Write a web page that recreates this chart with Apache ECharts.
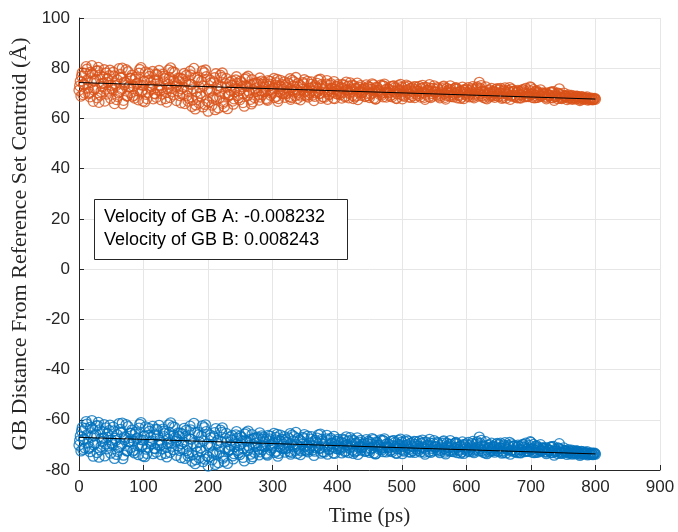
<!DOCTYPE html>
<html>
<head>
<meta charset="utf-8">
<script src="https://cdn.jsdelivr.net/npm/echarts@6/dist/echarts.min.js"></script>
<style>
  html, body { margin: 0; padding: 0; background: #fff; }
  #chart { width: 678px; height: 532px; }
</style>
</head>
<body>
<div id="chart"></div>
<script>
// Frames are written every 1 ps. Each boundary is stored as four phase arrays:
// phase p holds the frames at t = 4i + p (ps).
const FRAME_STRIDE = 4;

// ---- GB A distance from the reference-set centroid (Å) ----
const gbA0 = [
  71.2, 76.8, 73.5, 79.6, 70.4, 81.0, 74.9, 68.2, 77.3, 72.6,
  66.9, 75.8, 79.2, 71.4, 73.9, 68.7, 77.5, 65.8, 74.2, 78.6,
  70.3, 72.9, 76.4, 67.4, 80.2, 73.1, 69.6, 77.9, 71.8, 75.3,
  68.4, 79.1, 72.3, 74.6, 66.5, 76.2, 70.8, 78.3, 73.4, 69.1,
  75.7, 65.9, 71.2, 78.8, 67.3, 63.8, 76.4, 70.1, 64.6, 79.3,
  62.9, 74.1, 68.5, 77.8, 64.2, 72.6, 66.7, 75.9, 69.3, 73.2,
  67.8, 76.6, 71.1, 74.3, 64.9, 72.8, 70.2, 75.4, 68.3, 73.7,
  76.1, 69.4, 72.5, 67.2, 74.8, 70.9, 73.3, 66.8, 75.2, 71.6,
  69.8, 74.1, 67.6, 72.9, 76.3, 70.4, 68.9, 73.8, 71.2, 69.5,
  74.6, 67.1, 72.3, 70.0, 73.5, 68.4, 75.1, 69.7, 71.9, 67.9,
  72.8, 70.3, 73.6, 68.6, 71.4, 74.2, 69.2, 71.8, 67.5, 73.1,
  70.6, 68.9, 72.7, 69.8, 73.4, 67.8, 71.2, 70.1, 72.9, 68.5,
  71.6, 69.4, 73.0, 67.9, 70.8, 72.4, 68.8, 71.3, 69.6, 72.2,
  68.3, 71.0, 69.9, 73.2, 67.6, 70.7, 72.0, 68.9, 70.4, 71.8,
  69.1, 72.6, 67.7, 70.2, 71.5, 68.6, 72.3, 69.5, 70.9, 67.9,
  71.7, 69.3, 70.6, 68.2, 72.1, 74.4, 69.0, 70.8, 67.8, 71.4,
  69.6, 68.4, 71.9, 70.1, 68.9, 72.2, 69.4, 67.6, 70.7, 69.2,
  71.2, 68.1, 70.3, 72.0, 68.7, 72.3, 71.5, 68.3, 70.0, 69.1,
  69.9, 67.8, 69.0, 70.6, 67.2, 68.7, 71.8, 67.9, 68.8, 67.5,
  68.9, 67.6, 68.2, 68.8, 67.1, 67.9, 68.3, 67.3, 67.7, 67.4,
  67.6
];
const gbA1 = [
  73.0, 78.2, 70.1, 75.4, 68.6, 77.7, 72.0, 79.0, 69.3, 76.5,
  71.7, 74.3, 68.0, 78.4, 73.0, 70.2, 76.3, 67.2, 79.4, 72.5,
  75.9, 69.2, 73.7, 78.0, 70.5, 74.8, 67.9, 76.7, 72.8, 70.0,
  77.4, 73.1, 69.7, 75.8, 71.9, 68.3, 78.6, 74.1, 70.9, 76.0,
  69.5, 74.7, 66.9, 77.3, 71.8, 65.4, 75.3, 68.8, 72.9, 76.6,
  66.4, 71.3, 74.6, 67.6, 70.7, 76.3, 64.7, 72.5, 69.5, 75.0,
  70.6, 74.0, 67.4, 72.8, 75.6, 69.0, 73.5, 66.6, 71.9, 74.4,
  68.5, 73.6, 70.8, 75.1, 69.2, 72.0, 74.3, 67.9, 72.7, 70.0,
  73.4, 70.9, 68.3, 74.6, 71.5, 69.6, 72.6, 75.4, 68.9, 72.1,
  71.0, 68.8, 74.0, 69.9, 72.8, 70.6, 67.6, 73.3, 70.4, 71.7,
  73.5, 69.5, 71.9, 68.9, 72.9, 70.7, 67.9, 72.1, 70.3, 69.2,
  71.3, 73.4, 69.0, 71.6, 68.1, 72.5, 70.5, 69.3, 73.7, 70.6,
  70.2, 68.6, 72.2, 69.8, 71.4, 67.8, 72.6, 70.1, 71.9, 69.0,
  71.5, 70.8, 68.5, 72.3, 69.6, 71.2, 68.3, 72.0, 70.6, 68.8,
  70.4, 72.9, 69.2, 71.4, 68.7, 70.0, 71.7, 69.1, 68.5, 71.3,
  70.1, 68.6, 71.8, 69.3, 72.6, 69.8, 70.9, 68.1, 71.1, 70.3,
  68.9, 70.6, 69.7, 72.0, 68.3, 70.2, 71.2, 69.0, 70.8, 68.5,
  70.7, 69.3, 71.4, 68.7, 70.1, 69.6, 68.2, 71.0, 69.5, 68.9,
  69.8, 68.4, 69.1, 70.3, 68.7, 67.9, 69.6, 68.5, 69.0, 68.2,
  68.6, 67.9, 68.8, 68.2, 67.6, 68.5, 67.8, 68.1, 67.5, 67.9
];
const gbA2 = [
  74.8, 69.5, 77.9, 72.1, 78.4, 66.8, 75.6, 80.3, 70.7, 74.0,
  78.1, 70.9, 73.2, 76.9, 67.5, 79.8, 71.6, 74.5, 68.9, 72.8,
  77.2, 68.1, 74.0, 79.5, 71.3, 66.6, 75.1, 72.4, 78.7, 69.8,
  74.9, 71.1, 77.6, 67.9, 73.6, 80.1, 69.4, 72.7, 76.1, 66.2,
  72.4, 77.1, 68.0, 73.5, 79.9, 70.6, 66.1, 74.8, 78.2, 67.0,
  70.8, 65.3, 76.2, 71.9, 68.4, 78.1, 70.0, 63.9, 74.4, 66.9,
  72.2, 69.1, 74.9, 66.3, 73.1, 76.8, 67.6, 71.4, 74.1, 69.6,
  71.0, 74.4, 68.0, 72.9, 70.1, 75.9, 68.8, 73.0, 69.9, 74.6,
  72.3, 68.7, 75.2, 70.5, 67.9, 73.2, 71.6, 69.2, 74.8, 70.3,
  69.3, 73.1, 70.8, 75.6, 68.6, 72.2, 70.9, 73.9, 68.1, 72.6,
  69.7, 72.3, 70.4, 74.5, 68.2, 71.7, 73.0, 69.0, 72.4, 70.2,
  72.1, 70.0, 68.3, 73.8, 70.9, 72.2, 69.5, 73.1, 70.3, 71.8,
  68.9, 72.9, 70.6, 71.5, 73.6, 69.2, 71.0, 72.8, 68.4, 70.5,
  72.6, 69.1, 71.9, 70.2, 72.4, 68.6, 70.9, 73.0, 69.3, 70.0,
  71.1, 69.8, 72.0, 68.9, 70.5, 71.8, 68.2, 70.7, 72.5, 69.6,
  68.8, 71.2, 72.7, 69.9, 70.3, 71.9, 68.4, 72.6, 70.0, 68.9,
  70.8, 71.6, 68.7, 69.9, 71.3, 68.1, 70.6, 71.7, 68.6, 70.4,
  69.4, 70.9, 68.6, 69.8, 71.1, 68.4, 69.2, 70.5, 68.8, 70.2,
  68.5, 69.7, 70.4, 68.2, 69.5, 70.1, 68.0, 69.2, 68.6, 69.4,
  68.1, 68.9, 67.7, 68.4, 68.7, 67.6, 68.0, 67.5, 68.1, 67.7
];
const gbA3 = [
  68.9, 73.7, 80.6, 69.8, 74.4, 71.3, 78.9, 66.4, 73.9, 79.4,
  69.7, 77.0, 72.1, 65.9, 75.4, 70.6, 80.0, 73.4, 69.0, 76.0,
  68.8, 75.6, 71.0, 73.4, 66.9, 78.5, 70.4, 74.3, 67.8, 77.6,
  71.4, 67.4, 76.8, 70.3, 79.3, 72.0, 75.2, 67.1, 74.6, 71.8,
  77.9, 69.0, 73.8, 64.8, 76.1, 68.5, 72.3, 78.9, 65.6, 71.6,
  75.3, 68.0, 63.5, 73.1, 77.2, 66.0, 73.9, 68.7, 71.1, 65.7,
  75.3, 68.2, 71.7, 69.8, 76.2, 70.9, 65.8, 73.9, 70.7, 67.3,
  74.9, 70.7, 67.6, 73.7, 71.5, 68.3, 75.5, 70.6, 73.5, 68.4,
  70.1, 75.8, 71.3, 69.1, 73.9, 67.4, 74.3, 70.7, 68.5, 73.6,
  72.5, 70.2, 75.3, 68.0, 71.4, 73.7, 69.4, 72.0, 74.7, 69.8,
  70.9, 68.1, 73.2, 71.3, 70.0, 73.3, 68.6, 74.1, 70.8, 71.6,
  68.7, 71.9, 72.4, 70.2, 67.7, 71.1, 73.3, 68.6, 71.5, 70.4,
  72.7, 70.9, 68.1, 73.1, 69.5, 70.6, 73.3, 68.5, 70.9, 72.7,
  69.6, 72.8, 70.5, 68.4, 71.3, 73.5, 69.9, 70.6, 72.3, 68.2,
  71.9, 68.4, 70.7, 73.0, 69.4, 72.1, 70.3, 68.0, 71.4, 70.5,
  72.3, 70.0, 68.7, 71.5, 68.9, 73.1, 70.4, 69.3, 68.5, 72.0,
  70.2, 69.1, 71.4, 68.0, 70.9, 69.7, 72.3, 69.3, 71.0, 68.2,
  68.3, 71.5, 70.1, 69.0, 72.6, 69.8, 70.7, 68.4, 71.4, 69.6,
  70.2, 69.3, 68.3, 70.7, 68.9, 69.9, 68.4, 70.1, 69.0, 68.0,
  69.2, 68.3, 68.9, 67.7, 68.5, 68.0, 68.6, 67.8, 67.6, 68.0
];

// ---- GB B distance from the reference-set centroid (Å) ----
const gbB0 = [
  -70.1, -64.5, -67.8, -61.7, -70.9, -60.3, -66.4, -73.1, -64.0, -68.7,
  -74.4, -65.5, -62.1, -69.9, -67.4, -72.6, -63.8, -75.5, -67.1, -62.7,
  -71.0, -68.4, -64.9, -73.9, -61.1, -68.2, -71.7, -63.4, -69.5, -66.0,
  -72.9, -62.2, -69.0, -66.7, -74.8, -65.1, -70.5, -63.0, -67.9, -72.2,
  -65.6, -75.4, -70.1, -62.5, -74.0, -77.5, -64.9, -71.2, -76.7, -62.0,
  -78.4, -67.2, -72.8, -63.5, -77.1, -68.7, -74.6, -65.4, -72.0, -68.1,
  -73.5, -64.7, -70.2, -67.0, -76.4, -68.5, -71.1, -65.9, -73.0, -67.6,
  -65.2, -71.9, -68.8, -74.1, -66.5, -70.4, -68.0, -74.5, -66.1, -69.7,
  -71.5, -67.2, -73.7, -68.4, -65.0, -70.9, -72.4, -67.5, -70.1, -71.8,
  -66.7, -74.2, -69.0, -71.3, -67.8, -72.9, -66.2, -71.6, -69.4, -73.4,
  -68.5, -71.0, -67.7, -72.7, -69.9, -67.1, -72.1, -69.5, -73.8, -68.2,
  -70.7, -72.4, -68.6, -71.5, -67.9, -73.5, -70.1, -71.2, -68.4, -72.8,
  -69.7, -71.9, -68.3, -73.4, -70.5, -68.9, -72.5, -70.0, -71.7, -69.1,
  -73.0, -70.3, -71.4, -68.1, -73.7, -70.6, -69.3, -72.4, -70.9, -69.5,
  -72.2, -68.7, -73.6, -71.1, -69.8, -72.7, -69.0, -71.8, -70.4, -73.4,
  -69.6, -72.0, -70.7, -73.1, -69.2, -66.9, -72.3, -70.5, -73.5, -69.9,
  -71.7, -72.9, -69.4, -71.2, -72.4, -69.1, -71.9, -73.7, -70.6, -72.1,
  -70.1, -73.2, -71.0, -69.3, -72.6, -69.0, -69.8, -73.0, -71.3, -72.2,
  -71.4, -73.5, -72.3, -70.7, -74.1, -72.6, -69.5, -73.4, -72.5, -73.8,
  -72.4, -73.7, -73.1, -72.5, -74.2, -73.4, -73.0, -74.0, -73.6, -73.9,
  -73.7
];
const gbB1 = [
  -68.3, -63.1, -71.2, -65.9, -72.7, -63.6, -69.3, -62.3, -72.0, -64.8,
  -69.6, -67.0, -73.3, -62.9, -68.3, -71.1, -65.0, -74.1, -61.9, -68.8,
  -65.4, -72.1, -67.6, -63.3, -70.8, -66.5, -73.4, -64.6, -68.5, -71.3,
  -63.9, -68.2, -71.6, -65.5, -69.4, -73.0, -62.7, -67.2, -70.4, -65.3,
  -71.8, -66.6, -74.4, -64.0, -69.5, -75.9, -66.0, -72.5, -68.4, -64.7,
  -74.9, -70.0, -66.7, -73.7, -70.6, -65.0, -76.6, -68.8, -71.8, -66.3,
  -70.7, -67.3, -73.9, -68.5, -65.7, -72.3, -67.8, -74.7, -69.4, -66.9,
  -72.8, -67.7, -70.5, -66.2, -72.1, -69.3, -67.0, -73.4, -68.6, -71.3,
  -67.9, -70.4, -73.0, -66.7, -69.8, -71.7, -68.7, -65.9, -72.4, -69.2,
  -70.3, -72.5, -67.3, -71.4, -68.5, -70.7, -73.7, -68.0, -70.9, -69.6,
  -67.8, -71.8, -69.4, -72.4, -68.4, -70.6, -73.4, -69.2, -71.0, -72.1,
  -70.0, -67.9, -72.3, -69.7, -73.2, -68.8, -70.8, -72.0, -67.6, -70.7,
  -71.1, -72.7, -69.1, -71.5, -69.9, -73.5, -68.7, -71.2, -69.4, -72.3,
  -69.8, -70.5, -72.8, -69.0, -71.7, -70.1, -73.0, -69.3, -70.7, -72.5,
  -70.9, -68.4, -72.1, -69.9, -72.6, -71.3, -69.6, -72.2, -72.8, -70.0,
  -71.2, -72.7, -69.5, -72.0, -68.7, -71.5, -70.4, -73.2, -70.2, -71.0,
  -72.4, -70.7, -71.6, -69.3, -73.0, -71.1, -70.1, -72.3, -70.5, -72.8,
  -70.6, -72.0, -69.9, -72.6, -71.2, -71.7, -73.1, -70.3, -71.8, -72.4,
  -71.5, -72.9, -72.2, -71.0, -72.6, -73.4, -71.7, -72.8, -72.3, -73.1,
  -72.7, -73.4, -72.5, -73.1, -73.7, -72.8, -73.5, -73.2, -73.8, -73.4
];
const gbB2 = [
  -66.5, -71.8, -63.4, -69.2, -62.9, -74.5, -65.7, -61.0, -70.6, -67.3,
  -63.2, -70.4, -68.1, -64.4, -73.8, -61.5, -69.7, -66.8, -72.4, -68.5,
  -64.1, -73.2, -67.3, -61.8, -70.0, -74.7, -66.2, -68.9, -62.6, -71.5,
  -66.4, -70.2, -63.7, -73.4, -67.7, -61.2, -71.9, -68.6, -65.2, -75.1,
  -68.9, -64.2, -73.3, -67.8, -61.4, -70.7, -75.2, -66.5, -63.1, -74.3,
  -70.5, -76.0, -65.1, -69.4, -72.9, -63.2, -71.3, -77.4, -66.9, -74.4,
  -69.1, -72.2, -66.4, -75.0, -68.2, -64.5, -73.7, -69.9, -67.2, -71.7,
  -70.3, -66.9, -73.3, -68.4, -71.2, -65.4, -72.5, -68.3, -71.4, -66.7,
  -69.0, -72.6, -66.1, -70.8, -73.4, -68.1, -69.7, -72.1, -66.5, -71.0,
  -72.0, -68.2, -70.5, -65.7, -72.7, -69.1, -70.4, -67.4, -73.2, -68.7,
  -71.6, -69.0, -70.9, -66.8, -73.1, -69.6, -68.3, -72.3, -68.9, -71.1,
  -69.2, -71.3, -73.0, -67.5, -70.4, -69.1, -71.8, -68.2, -71.0, -69.5,
  -72.4, -68.4, -70.7, -69.8, -67.7, -72.1, -70.3, -68.5, -72.9, -70.8,
  -68.7, -72.2, -69.4, -71.1, -68.9, -72.7, -70.4, -68.3, -72.0, -71.3,
  -70.2, -71.5, -69.3, -72.4, -70.8, -69.5, -73.1, -70.6, -68.8, -71.7,
  -72.5, -70.1, -68.6, -71.4, -71.0, -69.4, -72.9, -68.7, -71.3, -72.4,
  -70.5, -69.7, -72.6, -71.4, -70.0, -73.2, -70.7, -69.6, -72.7, -70.9,
  -71.9, -70.4, -72.7, -71.5, -70.2, -72.9, -72.1, -70.8, -72.5, -71.1,
  -72.8, -71.6, -70.9, -73.1, -71.8, -71.2, -73.3, -72.1, -72.7, -71.9,
  -73.2, -72.4, -73.6, -72.9, -72.6, -73.7, -73.3, -73.8, -73.2, -73.6
];
const gbB3 = [
  -72.4, -67.6, -60.7, -71.5, -66.9, -70.0, -62.4, -74.9, -67.4, -61.9,
  -71.6, -64.3, -69.2, -75.4, -65.9, -70.7, -61.3, -67.9, -72.3, -65.3,
  -72.5, -65.7, -70.3, -67.9, -74.4, -62.8, -70.9, -67.0, -73.5, -63.7,
  -69.9, -73.9, -64.5, -71.0, -62.0, -69.3, -66.1, -74.2, -66.7, -69.5,
  -63.4, -72.3, -67.5, -76.5, -65.2, -72.8, -69.0, -62.4, -75.7, -69.7,
  -66.0, -73.3, -77.8, -68.2, -64.1, -75.3, -67.4, -72.6, -70.2, -75.6,
  -66.0, -73.1, -69.6, -71.5, -65.1, -70.4, -75.5, -67.4, -70.6, -74.0,
  -66.4, -70.6, -73.7, -67.6, -69.8, -73.0, -65.8, -70.7, -67.8, -72.9,
  -71.2, -65.5, -70.0, -72.2, -67.4, -73.9, -67.0, -70.6, -72.8, -67.7,
  -68.8, -71.1, -66.0, -73.3, -69.9, -67.6, -71.9, -69.3, -66.6, -71.5,
  -70.4, -73.2, -68.1, -70.0, -71.3, -68.0, -72.7, -67.2, -70.5, -69.7,
  -72.6, -69.4, -68.9, -71.1, -73.6, -70.2, -68.0, -72.7, -69.8, -70.9,
  -68.6, -70.4, -73.2, -68.2, -71.8, -70.7, -68.0, -72.8, -70.4, -68.6,
  -71.7, -68.5, -70.8, -72.9, -70.0, -67.8, -71.4, -70.7, -69.0, -73.1,
  -69.4, -72.9, -70.6, -68.3, -71.9, -69.2, -71.0, -73.3, -69.9, -70.8,
  -69.0, -71.3, -72.6, -69.8, -72.4, -68.2, -70.9, -72.0, -72.8, -69.3,
  -71.1, -72.2, -69.9, -73.3, -70.4, -71.6, -69.0, -72.0, -70.3, -73.1,
  -73.0, -69.8, -71.2, -72.3, -68.7, -71.5, -70.6, -72.9, -69.9, -71.7,
  -71.1, -72.0, -73.0, -70.6, -72.4, -71.4, -72.9, -71.2, -72.3, -73.3,
  -72.1, -73.0, -72.4, -73.6, -72.8, -73.3, -72.7, -73.5, -73.7, -73.3
];

// Linear fits: intercept (Å) and boundary velocity (Å/ps)
const fitStart = 0;
const fitEnd = 800;
const interceptA = 74.3;
const interceptB = -67.0;
const velocityA = -0.008232;
const velocityB = 0.008243;   // GB B's drift, reported as a magnitude

const xTicks = { min: 0, max: 900, step: 100 };
const yTicks = { min: -80, max: 100, step: 20 };

const annotationLines = [
  'Velocity of GB A: -0.008232',
  'Velocity of GB B: 0.008243'
];

// Merge the phase arrays of one boundary into time-ordered [t, distance] points
function framesToPoints(phases) {
  const pts = [];
  phases.forEach((arr, phase) => {
    arr.forEach((v, i) => pts.push([i * FRAME_STRIDE + phase, v]));
  });
  return pts.sort((a, b) => a[0] - b[0]);
}

const fitA = [[fitStart, interceptA + velocityA * fitStart], [fitEnd, interceptA + velocityA * fitEnd]];
const fitB = [[fitStart, interceptB - velocityB * fitStart], [fitEnd, interceptB - velocityB * fitEnd]];

const axisColor = '#262626';
const gridColor = '#e6e6e6';
const sansFont = '"Liberation Sans", Arial, sans-serif';
const serifFont = '"Liberation Serif", "Times New Roman", serif';

const chart = echarts.init(document.getElementById('chart'), null, { renderer: 'canvas' });

const circleSeries = (name, points, color) => ({
  name: name,
  type: 'scatter',
  data: points,
  symbol: 'circle',
  symbolSize: 10,
  large: false,
  itemStyle: { color: 'rgba(0,0,0,0)', borderColor: color, borderWidth: 1.3 },
  z: 2
});

chart.setOption({
  animation: false,
  backgroundColor: '#ffffff',
  grid: { left: 79, right: 18, top: 18, bottom: 56 },
  xAxis: {
    type: 'value',
    min: xTicks.min, max: xTicks.max, interval: xTicks.step,
    name: 'Time (ps)',
    nameLocation: 'middle',
    nameGap: 36,
    nameTextStyle: { fontFamily: serifFont, fontSize: 21, color: axisColor },
    axisLine: { show: true, onZero: false, lineStyle: { color: axisColor, width: 1 } },
    axisTick: { show: true, inside: true, length: 5, lineStyle: { color: axisColor } },
    axisLabel: { fontFamily: sansFont, fontSize: 17, color: axisColor, margin: 9 },
    splitLine: { show: true, lineStyle: { color: gridColor, width: 1 } }
  },
  yAxis: {
    type: 'value',
    min: yTicks.min, max: yTicks.max, interval: yTicks.step,
    name: 'GB Distance From Reference Set Centroid (Å)',
    nameLocation: 'middle',
    nameGap: 48,
    nameRotate: 90,
    nameTextStyle: { fontFamily: serifFont, fontSize: 22, color: axisColor },
    axisLine: { show: true, onZero: false, lineStyle: { color: axisColor, width: 1 } },
    axisTick: { show: true, inside: true, length: 5, lineStyle: { color: axisColor } },
    axisLabel: { fontFamily: sansFont, fontSize: 17, color: axisColor, margin: 9 },
    splitLine: { show: true, lineStyle: { color: gridColor, width: 1 } }
  },
  series: [
    circleSeries('GB A', framesToPoints([gbA0, gbA1, gbA2, gbA3]), '#D95319'),
    circleSeries('GB B', framesToPoints([gbB0, gbB1, gbB2, gbB3]), '#0072BD'),
    {
      name: 'Fit A',
      type: 'line',
      data: fitA,
      symbol: 'none',
      lineStyle: { color: '#000000', width: 1 },
      z: 5
    },
    {
      name: 'Fit B',
      type: 'line',
      data: fitB,
      symbol: 'none',
      lineStyle: { color: '#000000', width: 1 },
      z: 5
    }
  ],
  graphic: [
    {
      type: 'rect',
      left: 94,
      top: 199,
      z: 100,
      shape: { width: 253, height: 60 },
      style: { fill: '#ffffff', stroke: '#262626', lineWidth: 1 }
    },
    {
      type: 'text',
      left: 104,
      top: 206,
      z: 101,
      style: {
        text: annotationLines.join('\n'),
        font: '18px ' + sansFont,
        lineHeight: 23,
        fill: '#000000'
      }
    }
  ]
});
</script>
</body>
</html>
